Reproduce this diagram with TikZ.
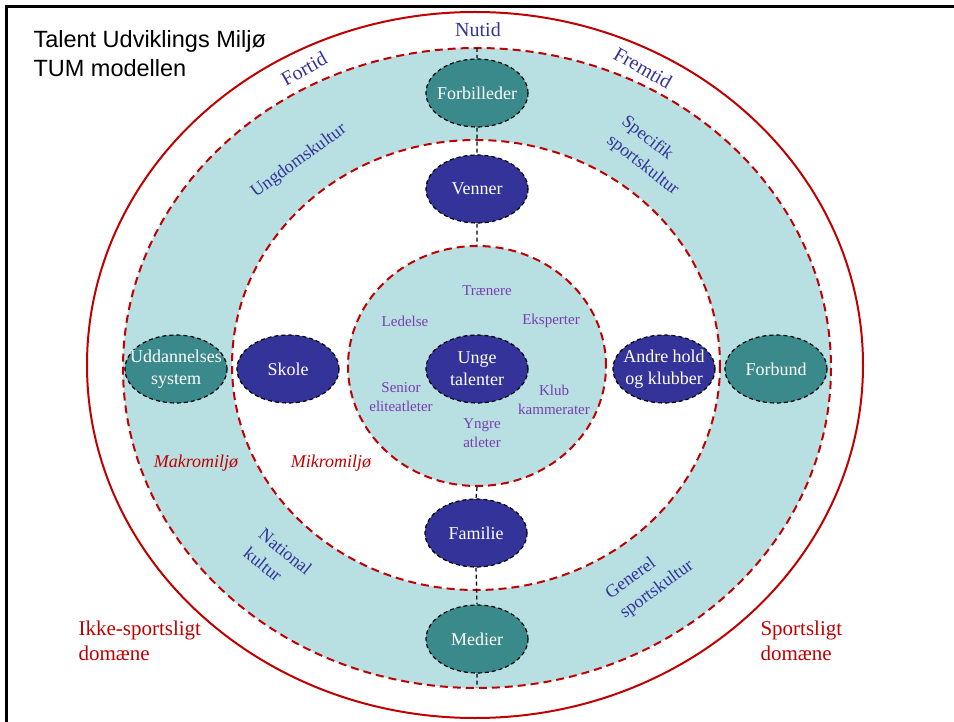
\documentclass[tikz,border=0pt]{standalone}
\usepackage{fontspec}
\setmainfont{Liberation Serif}
\newfontfamily\headfont{Liberation Sans}
\usetikzlibrary{shapes.geometric}

\definecolor{bandcyan}{HTML}{B8DFE2}
\definecolor{domred}{HTML}{C00000}
\definecolor{tealnode}{HTML}{3A8A8C}
\definecolor{navynode}{HTML}{333399}
\definecolor{lilla}{HTML}{7A3DB0}

\tikzset{
    envnode/.style={ellipse, draw=black, dash pattern=on 4pt off 3pt,
        line width=1.2pt, text=white, inner sep=-12pt, align=center,
        minimum width=102pt, minimum height=68pt,
        font=\fontsize{18}{22}\selectfont},
    makro/.style={envnode, fill=tealnode},
    mikro/.style={envnode, fill=navynode},
    ring/.style={draw=domred, line width=2pt, dash pattern=on 8pt off 5pt},
    spoke/.style={draw=black, line width=1.2pt, dash pattern=on 4pt off 3pt},
    tidtxt/.style={text=navynode, font=\fontsize{20}{24}\selectfont},
    kulturtxt/.style={text=navynode, align=left, font=\fontsize{18}{24}\selectfont},
    aktor/.style={text=lilla, align=center, font=\fontsize{15}{19}\selectfont},
    domtxt/.style={text=domred, align=left, anchor=west, font=\fontsize{21}{25}\selectfont},
    miljotxt/.style={text=domred, font=\fontsize{18}{22}\selectfont\itshape}
}

\begin{document}
\begin{tikzpicture}[x=1pt,y=-1pt]
    \useasboundingbox (0,0) rectangle (954,722);
    \clip (0,0) rectangle (954,722);
    \draw[line width=3pt] (6.5,6.5) rectangle (1000,800);
    % rings
    \draw[domred, line width=2pt] (475,365) ellipse [x radius=388, y radius=353];
    \fill[bandcyan] (477,368) ellipse [x radius=354, y radius=320];
    \fill[white] (476,365) ellipse [x radius=244, y radius=225];
    \draw[ring]
        (477,368) ellipse [x radius=354, y radius=320]
        (476,365) ellipse [x radius=244, y radius=225];
    \node[ring, ellipse, fill=bandcyan, minimum width=258pt, minimum height=240pt]
        (kerne) at (477,366) {};
    \coordinate (nordkant) at (477,48);
    \coordinate (sydkant) at (477,688);
    % environment nodes
    \foreach \navn/\stil/\px/\py/\tekst in {%
        forbilleder/makro/477/93/{Forbilleder},
        venner/mikro/477/189/{Venner},
        unge/mikro/477/369/{Unge\\talenter},
        familie/mikro/476/533/{Familie},
        medier/makro/477/639/{Medier},
        uddannelse/makro/176/369/{Uddannelses\\system},
        skole/mikro/288/369/{Skole},
        andre/mikro/664/369/{Andre hold\\og klubber},
        forbund/makro/776/369/{Forbund}%
    }{
        \node[\stil] (\navn) at (\px,\py) {\tekst};
    }
    \draw[spoke]
        (nordkant) -- (forbilleder.north)
        (forbilleder.south) -- (venner.north)
        (venner.south) -- (kerne.north)
        (kerne.south) -- (familie.north)
        (familie.south) -- (medier.north)
        (medier.south) -- (sydkant);
    % actors in the core
    \path[nodes=aktor]
        (487,291) node (traenere) {Trænere}
        (405,321) node (ledelse) {Ledelse}
        (551,321) node (eksperter) {Eksperter}
        (401,397) node (senior) {Senior\\eliteatleter}
        (554,400) node (klub) {Klub\\kammerater}
        (482,433) node (yngre) {Yngre\\atleter};
    % time and culture labels
    \node[tidtxt] (nutid) at (478,30) {Nutid};
    \node[tidtxt, rotate=29] (fortid) at (304,69) {Fortid};
    \node[tidtxt, rotate=-30] (fremtid) at (643,68) {Fremtid};
    \node[kulturtxt, rotate=36] (ungdom) at (299,161) {Ungdomskultur};
    \node[kulturtxt, rotate=-38] (specifik) at (650,156) {Specifik\\sportskultur};
    \node[kulturtxt, rotate=-39] (national) at (278,561) {National\\kultur};
    \node[kulturtxt, rotate=36] (generel) at (650,580) {Generel\\sportskultur};
    \node[miljotxt] (makromiljo) at (196,463) {Makromiljø};
    \node[miljotxt] (mikromiljo) at (331,463) {Mikromiljø};
    \node[domtxt] (ikkesport) at (75,640.5) {Ikke-sportsligt\\domæne};
    \node[domtxt] (sport) at (757,640.5) {Sportsligt\\domæne};
    % title
    \node[anchor=base west, font=\headfont\fontsize{23.5}{29}\selectfont] (titel1) at (30,48) {Talent Udviklings Miljø};
    \node[anchor=base west, font=\headfont\fontsize{23.5}{29}\selectfont] (titel2) at (30,77) {TUM modellen};
\end{tikzpicture}
\end{document}
